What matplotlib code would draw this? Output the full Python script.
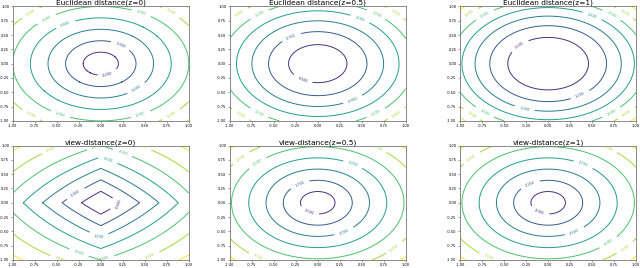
import numpy as np
import matplotlib
matplotlib.use("Agg")
import matplotlib.pyplot as plt
from matplotlib.colors import Normalize

# panel titles
titles = ["Euclidean distance(z=0)", "Euclidean distance(z=0.5)", "Euclidean distance(z=1)",
          "view-distance(z=0)", "view-distance(z=0.5)", "view-distance(z=1)"]
z_vals = [0.0, 0.5, 1.0]

# contour levels
lev_euc = [
    [0.2, 0.4, 0.6, 0.8, 1.0, 1.2, 1.4],
    [0.6, 0.75, 0.9, 1.05, 1.2, 1.35, 1.5],
    [1.1, 1.2, 1.3, 1.4, 1.5, 1.6, 1.7],
]
lev_view = [
    [0.4, 0.8, 1.2, 1.6, 2.0, 2.4, 2.8],
    [1.5, 1.75, 2.0, 2.25, 2.5, 2.75, 3.0],
    [2.0, 2.25, 2.5, 2.75, 3.0, 3.25, 3.5],
]
# view-distance shape parameters (offset, scale per unit radius)
view_off = [0.0, 1.25, 1.75]
view_scale = [2.0, 1.25, 1.25]

tick_vals = [-1.0, -0.75, -0.5, -0.25, 0.0, 0.25, 0.5, 0.75, 1.0]

x = np.linspace(-1, 1, 301)
X, Y = np.meshgrid(x, x)

fig = plt.figure(figsize=(6.4, 2.68), dpi=100)
lefts = [0.020, 0.359, 0.719]
bottoms = [0.549, 0.030]
w, h = 0.275, 0.427


def style(ax, title):
    ax.set_xticks(tick_vals)
    ax.set_yticks(tick_vals)
    ax.set_xticklabels(["%.2f" % t for t in tick_vals])
    ax.set_yticklabels(["%.2f" % t for t in tick_vals])
    ax.tick_params(labelsize=2.6, length=1.5, width=0.4, pad=1, color="#555555")
    for s in ax.spines.values():
        s.set_color("#777777")
        s.set_linewidth(0.6)
    ax.set_title(title, fontsize=5.3, pad=0.6)


def draw(ax, F, levels):
    # old-style autolevels: one step below the first drawn level sets the colour floor
    step = levels[1] - levels[0]
    norm = Normalize(vmin=levels[0] - step, vmax=levels[-1])
    cs = ax.contour(X, Y, F, levels=levels, cmap="viridis", norm=norm, linewidths=0.7)
    ax.clabel(cs, inline=True, fontsize=2.6, fmt="%1.3f")


for i, z in enumerate(z_vals):
    # Euclidean distance
    ax = fig.add_axes([lefts[i], bottoms[0], w, h])
    Z = np.sqrt(X ** 2 + Y ** 2 + z ** 2)
    draw(ax, Z, lev_euc[i])
    style(ax, titles[i])

    # view distance
    ax = fig.add_axes([lefts[i], bottoms[1], w, h])
    if z == 0:
        R = np.abs(X) / 1.1 + np.abs(Y) - 0.46 * np.abs(X) * np.abs(Y)
    else:
        R = np.sqrt(X ** 2 + Y ** 2) / 0.98
    V = view_off[i] + view_scale[i] * R
    draw(ax, V, lev_view[i])
    style(ax, titles[3 + i])

fig.savefig("out.png", dpi=100)
